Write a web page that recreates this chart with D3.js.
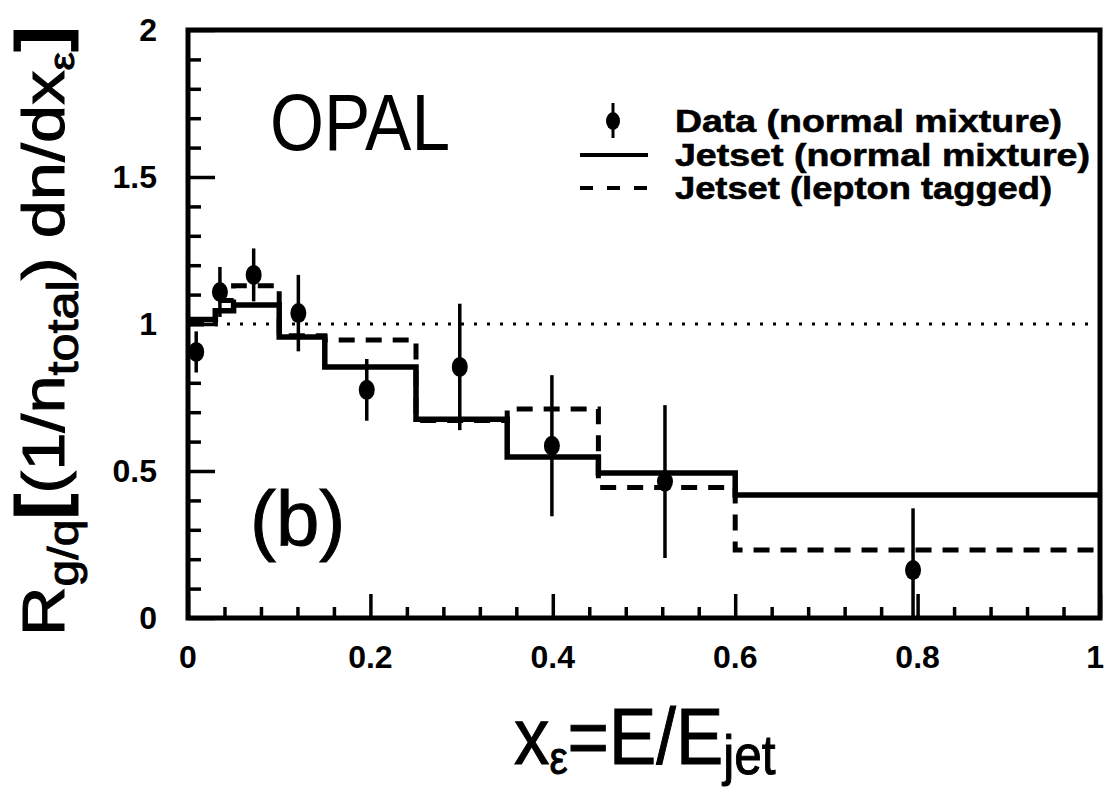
<!DOCTYPE html>
<html>
<head>
<meta charset="utf-8">
<script src="https://cdn.jsdelivr.net/npm/d3@7"></script>
<style>
  body { margin: 0; background: #fff; }
  svg { display: block; }
  text { font-family: 'Liberation Sans', Arial, sans-serif; fill: #000; }
</style>
</head>
<body>
<div id="chart"></div>
<script>
// bin edges of the Jetset histograms
const binEdges = [0, 0.03, 0.05, 0.1, 0.15, 0.25, 0.35, 0.45, 0.6, 1.0]
// Jetset (normal mixture), one value per bin
const jetsetNormal = [1.015, 1.045, 1.065, 0.956, 0.854, 0.676, 0.548, 0.493, 0.418]
// Jetset (lepton tagged), one value per bin
const jetsetLepton = [1.0, 1.08, 1.13, 0.96, 0.946, 0.672, 0.711, 0.444, 0.231]

// data (normal mixture)
const dataX = [0.009, 0.035, 0.072, 0.121, 0.196, 0.298, 0.399, 0.523, 0.795]
const dataY = [0.905, 1.109, 1.167, 1.037, 0.776, 0.854, 0.586, 0.464, 0.163]
const dataErr = [0.07, 0.085, 0.09, 0.13, 0.105, 0.215, 0.24, 0.26, 0.21]

const xTicks = [0, 0.2, 0.4, 0.6, 0.8, 1]
const xTickLabels = ['0', '0.2', '0.4', '0.6', '0.8', '1']
const yTicks = [0, 0.5, 1, 1.5, 2]
const yTickLabels = ['0', '0.5', '1', '1.5', '2']

const legendLabels = ['Data  (normal mixture)', 'Jetset (normal mixture)', 'Jetset (lepton tagged)']

const W = 1105
const H = 788
const margin = { left: 188, right: 5, top: 30, bottom: 170 }

const svg = d3.select('#chart')
  .append('svg')
  .attr('width', W)
  .attr('height', H)

const x = d3.scaleLinear().domain([0, 1]).range([margin.left, W - margin.right])
const y = d3.scaleLinear().domain([0, 2]).range([H - margin.bottom, margin.top])

// reference line at 1
svg.append('line')
  .attr('x1', x(0)).attr('x2', x(1))
  .attr('y1', y(1)).attr('y2', y(1))
  .attr('stroke', '#000')
  .attr('stroke-width', 3)
  .attr('stroke-dasharray', '3,10')

// histograms
function stepPoints (vals) {
  const pts = vals.map((v, i) => [binEdges[i], v])
  pts.push([binEdges[binEdges.length - 1], vals[vals.length - 1]])
  return pts
}
const stepLine = d3.line()
  .x(d => x(d[0]))
  .y(d => y(d[1]))
  .curve(d3.curveStepAfter)

svg.append('path')
  .attr('d', stepLine(stepPoints(jetsetLepton)))
  .attr('fill', 'none')
  .attr('stroke', '#000')
  .attr('stroke-width', 5)
  .attr('stroke-dasharray', '16,11')

svg.append('path')
  .attr('d', stepLine(stepPoints(jetsetNormal)))
  .attr('fill', 'none')
  .attr('stroke', '#000')
  .attr('stroke-width', 5.5)

// data points with error bars
const pts = svg.append('g').attr('class', 'points')
  .selectAll('g')
  .data(dataX.map((d, i) => ({ x: d, y: dataY[i], e: dataErr[i] })))
  .enter()
  .append('g')

pts.append('line')
  .attr('x1', d => x(d.x)).attr('x2', d => x(d.x))
  .attr('y1', d => y(Math.max(0, d.y - d.e)))
  .attr('y2', d => y(d.y + d.e))
  .attr('stroke', '#000')
  .attr('stroke-width', 3.5)

pts.append('ellipse')
  .attr('cx', d => x(d.x))
  .attr('cy', d => y(d.y))
  .attr('rx', 8)
  .attr('ry', 10)
  .attr('fill', '#000')

// frame
svg.append('rect')
  .attr('x', x(0)).attr('y', y(2))
  .attr('width', x(1) - x(0))
  .attr('height', y(0) - y(2))
  .attr('fill', 'none')
  .attr('stroke', '#000')
  .attr('stroke-width', 5)

// inward ticks
const xAxis = d3.axisTop(x)
  .tickValues(d3.range(0, 1.0001, 0.04))
  .tickSize(11)
  .tickFormat('')
const xAxisG = svg.append('g')
  .attr('transform', `translate(0,${y(0)})`)
  .call(xAxis)
xAxisG.select('.domain').remove()
xAxisG.selectAll('line')
  .attr('stroke-width', 3.5)
  .attr('y2', d => (Math.abs(d * 5 - Math.round(d * 5)) < 1e-6 ? -24 : -11))

const yAxis = d3.axisRight(y)
  .tickValues(d3.range(0, 2.0001, 0.1))
  .tickSize(13)
  .tickFormat('')
const yAxisG = svg.append('g')
  .attr('transform', `translate(${x(0)},0)`)
  .call(yAxis)
yAxisG.select('.domain').remove()
yAxisG.selectAll('line')
  .attr('stroke-width', 3.5)
  .attr('x2', d => (Math.abs(d * 2 - Math.round(d * 2)) < 1e-6 ? 27 : 13))

// tick labels (the last one sits against the right edge, as in the scan)
svg.append('g')
  .selectAll('text')
  .data(xTicks)
  .enter()
  .append('text')
  .attr('x', (d, i) => (i === xTicks.length - 1 ? x(d) + 4 : x(d)))
  .attr('y', y(0) + 50)
  .attr('text-anchor', (d, i) => (i === xTicks.length - 1 ? 'end' : 'middle'))
  .attr('font-size', 32)
  .attr('font-weight', 'bold')
  .text((d, i) => xTickLabels[i])

svg.append('g')
  .selectAll('text')
  .data(yTicks)
  .enter()
  .append('text')
  .attr('x', 157)
  .attr('y', d => y(d) + 11)
  .attr('text-anchor', 'end')
  .attr('font-size', 32)
  .attr('font-weight', 'bold')
  .text((d, i) => yTickLabels[i])

// OPAL and panel label
svg.append('text')
  .attr('x', 270).attr('y', 150)
  .attr('font-size', 80)
  .attr('textLength', 180)
  .attr('lengthAdjust', 'spacingAndGlyphs')
  .text('OPAL')

svg.append('text')
  .attr('x', 250).attr('y', 546)
  .attr('font-size', 78)
  .attr('stroke', '#000')
  .attr('stroke-width', 1)
  .text('(b)')

// legend
const legendRows = [121, 155, 188]
const lg = svg.append('g').attr('class', 'legend')
lg.append('line')
  .attr('x1', 613).attr('x2', 613)
  .attr('y1', legendRows[0] - 18).attr('y2', legendRows[0] + 17)
  .attr('stroke', '#000').attr('stroke-width', 3)
lg.append('ellipse')
  .attr('cx', 613).attr('cy', legendRows[0])
  .attr('rx', 7).attr('ry', 9)
lg.append('line')
  .attr('x1', 580).attr('x2', 648)
  .attr('y1', legendRows[1]).attr('y2', legendRows[1])
  .attr('stroke', '#000').attr('stroke-width', 4)
lg.append('line')
  .attr('x1', 580).attr('x2', 648)
  .attr('y1', legendRows[2]).attr('y2', legendRows[2])
  .attr('stroke', '#000').attr('stroke-width', 4)
  .attr('stroke-dasharray', '13,14')
const legendWidths = [387, 415, 377]
lg.selectAll('text')
  .data(legendLabels)
  .enter()
  .append('text')
  .attr('x', 675)
  .attr('y', (d, i) => legendRows[i] + 11)
  .attr('font-size', 31)
  .attr('font-weight', 'bold')
  .attr('stroke', '#000')
  .attr('stroke-width', 0.6)
  .attr('textLength', (d, i) => legendWidths[i])
  .attr('lengthAdjust', 'spacingAndGlyphs')
  .text(d => d)

// x axis title, squeezed to the width of the original
const xt = svg.append('text')
  .attr('font-size', 80)
  .attr('stroke', '#000')
  .attr('stroke-width', 1)
xt.append('tspan').text('x')
xt.append('tspan').attr('font-size', 46).attr('dy', 10).text('ε')
xt.append('tspan').attr('dy', -10).text('=E/E')
xt.append('tspan').attr('font-size', 56).attr('dy', 10).text('jet')
const xtw = xt.node().getBBox().width
xt.attr('transform', `translate(514,764) scale(${262 / xtw},1)`)

// y axis title, fitted to its length in the original
const yt = svg.append('text')
  .attr('font-size', 60)
  .attr('stroke', '#000')
  .attr('stroke-width', 1)
yt.append('tspan').text('R')
yt.append('tspan').attr('font-size', 42).attr('dy', 14).text('g/q')
yt.append('tspan').attr('font-size', 68).attr('font-weight', 'bold').attr('dy', -14).text('[')
yt.append('tspan').text('(1/n')
yt.append('tspan').attr('font-size', 44).attr('dy', 14).text('total')
yt.append('tspan').attr('dy', -14).text(') dn/dx')
yt.append('tspan').attr('font-size', 36).attr('dy', 10).text('ε')
yt.append('tspan').attr('font-size', 68).attr('font-weight', 'bold').attr('dy', -10).text(']')
const ytw = yt.node().getBBox().width
yt.attr('transform', `translate(64,636) rotate(-90) scale(${610 / ytw},1)`)
</script>
</body>
</html>
